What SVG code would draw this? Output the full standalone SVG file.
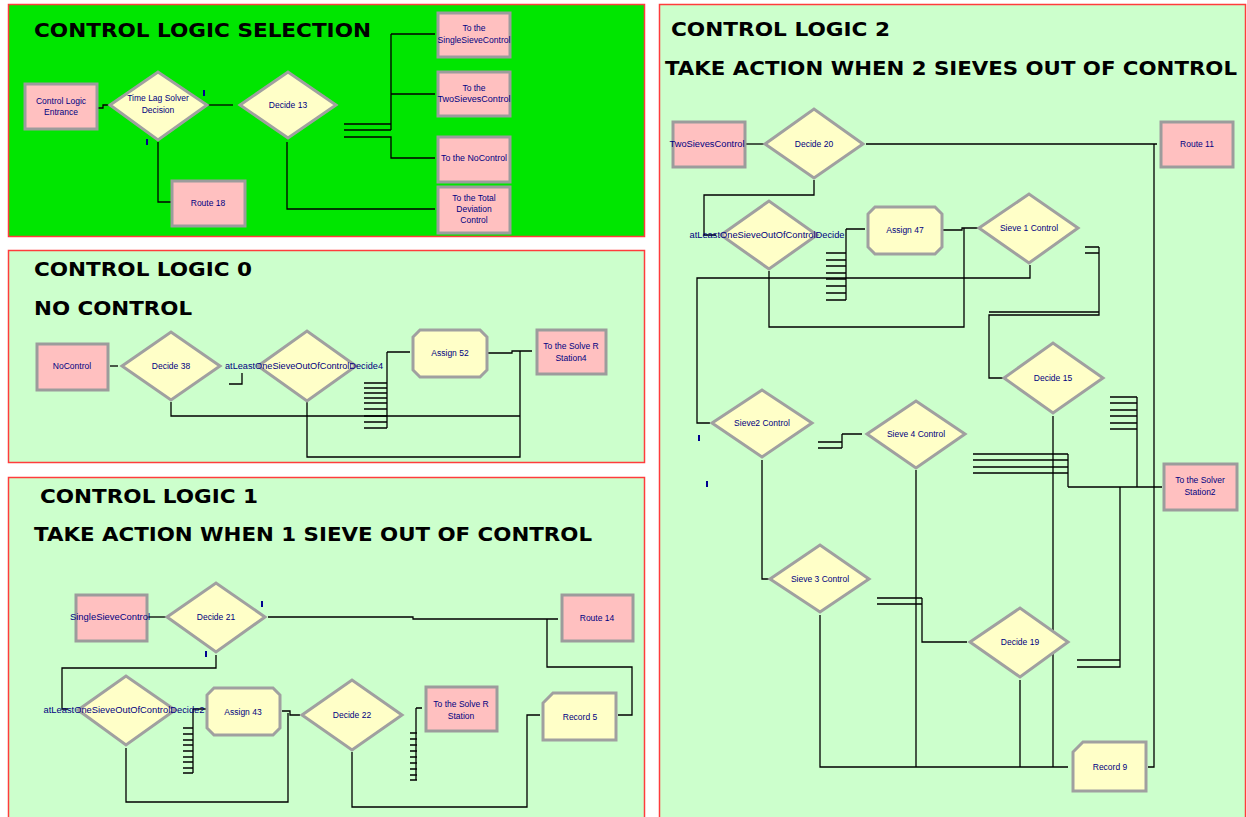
<svg xmlns="http://www.w3.org/2000/svg" width="1247" height="817" viewBox="0 0 1247 817">
<style>
.pa{fill:#00e600;stroke:#ff3c3c;stroke-width:1.5}
.pb{fill:#ccffcc;stroke:#ff3c3c;stroke-width:1.5}
.box{fill:#ffc0c0;stroke:#9c9c9c;stroke-width:3}
.dia{fill:#ffffc8;stroke:#a0a0a0;stroke-width:3}
.lbl{font-family:"Liberation Sans",Arial,sans-serif;font-size:8.5px;fill:#000080;text-anchor:middle}
.ttl{font-family:"DejaVu Sans","Liberation Sans",sans-serif;font-weight:bold;font-size:19px;fill:#000}
.cn{fill:none;stroke:#000;stroke-width:1.3}
.tk{fill:#000090}
</style>
<rect width="1247" height="817" fill="#ffffff"/>
<g id="panels">
<rect class="pa" x="8.5" y="4.5" width="636" height="232"/>
<rect class="pb" x="8.5" y="250.5" width="636" height="212"/>
<rect class="pb" x="8.5" y="477.5" width="636" height="345"/>
<rect class="pb" x="659.5" y="4.5" width="586" height="820"/>
</g>
<g id="titles">
<text class="ttl" x="34" y="37" textLength="337" lengthAdjust="spacingAndGlyphs">CONTROL LOGIC SELECTION</text>
<text class="ttl" x="34" y="276" textLength="218" lengthAdjust="spacingAndGlyphs">CONTROL LOGIC 0</text>
<text class="ttl" x="34" y="315" textLength="158" lengthAdjust="spacingAndGlyphs">NO CONTROL</text>
<text class="ttl" x="40" y="503" textLength="218" lengthAdjust="spacingAndGlyphs">CONTROL LOGIC 1</text>
<text class="ttl" x="34" y="541" textLength="558" lengthAdjust="spacingAndGlyphs">TAKE ACTION WHEN 1 SIEVE OUT OF CONTROL</text>
<text class="ttl" x="671" y="36" textLength="219" lengthAdjust="spacingAndGlyphs">CONTROL LOGIC 2</text>
<text class="ttl" x="665" y="75" textLength="572" lengthAdjust="spacingAndGlyphs">TAKE ACTION WHEN 2 SIEVES OUT OF CONTROL</text>
</g>
<g id="connectors">
<path class="cn" d="M97,108 H103 V105 H110"/>
<path class="cn" d="M208,105 H233"/>
<path class="cn" d="M158,142 V202 H172"/>
<path class="cn" d="M287,142 V209 H435"/>
<path class="cn" d="M344,124 H391 M344,130 H391 M391,34 V130 M391,34 H435 M391,94 H435 M344,137 H391 V158 H435"/>
<path class="cn" d="M110,366 H118"/>
<path class="cn" d="M229,384 H242 V373"/>
<path class="cn" d="M307,402 V457 H520 V351"/>
<path class="cn" d="M171,402 V416 H520"/>
<path class="cn" d="M364,383 H387 M364,388 H387 M364,393 H387 M364,398 H387 M364,403 H387 M364,409 H387 M364,416 H387 M364,422 H387 M364,428 H387 M387,352 V428 M387,352 H410"/>
<path class="cn" d="M488,353 H512 V351 H532"/>
<path class="cn" d="M148,617 H166"/>
<path class="cn" d="M268,617 H413 V619 H558 M547,619 V667 H632 V715 H618"/>
<path class="cn" d="M216,655 V668 H62 V709 H68"/>
<path class="cn" d="M183,728 H193 M183,734 H193 M183,740 H193 M183,745 H193 M183,751 H193 M183,757 H193 M183,762 H193 M183,768 H193 M183,773 H193 M193,709 V773 M193,709 H207"/>
<path class="cn" d="M282,711 H290 V715 H300 M288,713 V802 H126 V748"/>
<path class="cn" d="M410,733 H417 M410,739 H417 M410,745 H417 M410,751 H417 M410,757 H417 M410,763 H417 M410,769 H417 M410,775 H417 M410,780 H417 M416,708 V780 M416,708 H422"/>
<path class="cn" d="M352,752 V807 H527 V715 H540"/>
<path class="cn" d="M745,144 H765"/>
<path class="cn" d="M866,144 H1157 M1154,144 V767 H1148"/>
<path class="cn" d="M814,180 V195 H704 V235 H716"/>
<path class="cn" d="M826,253 H846 M826,260 H846 M826,266 H846 M826,273 H846 M826,279 H846 M826,286 H846 M826,293 H846 M826,300 H846 M846,229 V300 M846,229 H865"/>
<path class="cn" d="M943,230 H962 V228 H978 M964,228 V327 H769 V271"/>
<path class="cn" d="M1030,265 V278 H697 V423 H710"/>
<path class="cn" d="M1085,247 H1099 M1085,253 H1099 M1099,247 V315 H989 V378 H1003 M1099,312 H989"/>
<path class="cn" d="M1110,397 H1137 M1110,403 H1137 M1110,410 H1137 M1110,416 H1137 M1110,423 H1137 M1110,429 H1137 M1137,397 V487"/>
<path class="cn" d="M973,454 H1068 M973,460 H1068 M973,467 H1068 M973,473 H1068 M1068,454 V487 M1068,487 H1162"/>
<path class="cn" d="M1120,487 V667 H1077 M1077,660 H1120"/>
<path class="cn" d="M818,442 H842 M818,448 H842 M842,434 V448 M842,434 H862"/>
<path class="cn" d="M762,460 V579 H770"/>
<path class="cn" d="M877,598 H922 M877,604 H922 M922,598 V642 H967"/>
<path class="cn" d="M916,470 V767 M820,615 V767 H1068 M1020,680 V767 M1053,416 V767"/>
</g>
<g id="ticks">
<rect class="tk" x="203" y="90" width="2" height="6"/>
<rect class="tk" x="146" y="139" width="2" height="6"/>
<rect class="tk" x="261" y="601" width="2" height="6"/>
<rect class="tk" x="205" y="651" width="2" height="6"/>
<rect class="tk" x="698" y="435" width="2" height="6"/>
<rect class="tk" x="706" y="481" width="2" height="6"/>
</g>
<g id="n-entrance"><rect class="box" x="25" y="84" width="72" height="45"/><text class="lbl" x="61" y="104">Control Logic</text><text class="lbl" x="61" y="115">Entrance</text></g>
<g id="n-timelag"><polygon class="dia" points="110,105 158,72 207,105 158,140"/><text class="lbl" x="158" y="101">Time Lag Solver</text><text class="lbl" x="158" y="113">Decision</text></g>
<g id="n-decide13"><polygon class="dia" points="240,105 288,72 336,105 288,138"/><text class="lbl" x="288" y="108">Decide 13</text></g>
<g id="n-route18"><rect class="box" x="172" y="181" width="73" height="45"/><text class="lbl" x="208" y="206">Route 18</text></g>
<g id="n-tosingle"><rect class="box" x="438" y="13" width="72" height="44"/><text class="lbl" x="474" y="31">To the</text><text class="lbl" x="474" y="43" textLength="73" lengthAdjust="spacingAndGlyphs">SingleSieveControl</text></g>
<g id="n-totwo"><rect class="box" x="438" y="72" width="72" height="44"/><text class="lbl" x="474" y="91">To the</text><text class="lbl" x="474" y="102" textLength="73" lengthAdjust="spacingAndGlyphs">TwoSievesControl</text></g>
<g id="n-tono"><rect class="box" x="438" y="137" width="72" height="45"/><text class="lbl" x="474" y="161" textLength="66" lengthAdjust="spacingAndGlyphs">To the NoControl</text></g>
<g id="n-tototal"><rect class="box" x="438" y="187" width="72" height="46"/><text class="lbl" x="474" y="201">To the Total</text><text class="lbl" x="474" y="212">Deviation</text><text class="lbl" x="474" y="223">Control</text></g>
<g id="n-nocontrol"><rect class="box" x="37" y="344" width="71" height="46"/><text class="lbl" x="72" y="369">NoControl</text></g>
<g id="n-decide38"><polygon class="dia" points="122,366 171,332 220,366 171,400"/><text class="lbl" x="171" y="369">Decide 38</text></g>
<g id="n-atleast4"><polygon class="dia" points="258,366 307,331 356,366 307,401"/><text class="lbl" x="304" y="369" textLength="158" lengthAdjust="spacingAndGlyphs">atLeastOneSieveOutOfControlDecide4</text></g>
<g id="n-assign52"><polygon class="dia" points="420,330 480,330 487,337 487,370 480,377 420,377 413,370 413,337"/><text class="lbl" x="450" y="356" font-size="7.5">Assign 52</text></g>
<g id="n-station4"><rect class="box" x="537" y="330" width="69" height="44"/><text class="lbl" x="571" y="349">To the Solve R</text><text class="lbl" x="571" y="361">Station4</text></g>
<g id="n-single"><rect class="box" x="76" y="595" width="71" height="46"/><text class="lbl" x="110" y="620" textLength="80" lengthAdjust="spacingAndGlyphs">SingleSieveControl</text></g>
<g id="n-decide21"><polygon class="dia" points="167,617 216,583 265,617 216,652"/><text class="lbl" x="216" y="620">Decide 21</text></g>
<g id="n-atleast2"><polygon class="dia" points="78,710 126,676 175,710 126,745"/><text class="lbl" x="124" y="713" textLength="161" lengthAdjust="spacingAndGlyphs">atLeastOneSieveOutOfControlDecide2</text></g>
<g id="n-assign43"><polygon class="dia" points="214,688 273,688 280,695 280,728 273,735 214,735 207,728 207,695"/><text class="lbl" x="243" y="715" font-size="7.5">Assign 43</text></g>
<g id="n-decide22"><polygon class="dia" points="302,715 352,680 402,715 352,750"/><text class="lbl" x="352" y="718">Decide 22</text></g>
<g id="n-station"><rect class="box" x="426" y="687" width="71" height="44"/><text class="lbl" x="461" y="707">To the Solve R</text><text class="lbl" x="461" y="719">Station</text></g>
<g id="n-route14"><rect class="box" x="562" y="595" width="71" height="46"/><text class="lbl" x="597" y="621">Route 14</text></g>
<g id="n-record5"><polygon class="dia" points="553,693 616,693 616,740 543,740 543,703"/><text class="lbl" x="580" y="720" font-size="7.5">Record 5</text></g>
<g id="n-twosieves"><rect class="box" x="673" y="122" width="72" height="45"/><text class="lbl" x="707" y="147" textLength="75" lengthAdjust="spacingAndGlyphs">TwoSievesControl</text></g>
<g id="n-decide20"><polygon class="dia" points="765,144 814,109 863,144 814,178"/><text class="lbl" x="814" y="147">Decide 20</text></g>
<g id="n-route11"><rect class="box" x="1161" y="122" width="72" height="45"/><text class="lbl" x="1197" y="147">Route 11</text></g>
<g id="n-atleast"><polygon class="dia" points="721,235 769,201 817,235 769,269"/><text class="lbl" x="767" y="238" textLength="155" lengthAdjust="spacingAndGlyphs">atLeastOneSieveOutOfControlDecide</text></g>
<g id="n-assign47"><polygon class="dia" points="875,207 935,207 942,214 942,247 935,254 875,254 868,247 868,214"/><text class="lbl" x="905" y="233" font-size="7.5">Assign 47</text></g>
<g id="n-sieve1"><polygon class="dia" points="979,228 1029,194 1078,228 1029,263"/><text class="lbl" x="1029" y="231">Sieve 1 Control</text></g>
<g id="n-decide15"><polygon class="dia" points="1004,378 1053,343 1103,378 1053,413"/><text class="lbl" x="1053" y="381">Decide 15</text></g>
<g id="n-station2"><rect class="box" x="1164" y="464" width="73" height="46"/><text class="lbl" x="1200" y="483">To the Solver</text><text class="lbl" x="1200" y="495">Station2</text></g>
<g id="n-sieve2"><polygon class="dia" points="712,423 762,390 812,423 762,457"/><text class="lbl" x="762" y="426">Sieve2 Control</text></g>
<g id="n-sieve4"><polygon class="dia" points="867,434 916,401 965,434 916,468"/><text class="lbl" x="916" y="437">Sieve 4 Control</text></g>
<g id="n-sieve3"><polygon class="dia" points="770,579 820,545 869,579 820,612"/><text class="lbl" x="820" y="582">Sieve 3 Control</text></g>
<g id="n-decide19"><polygon class="dia" points="970,642 1020,608 1068,642 1020,677"/><text class="lbl" x="1020" y="645">Decide 19</text></g>
<g id="n-record9"><polygon class="dia" points="1083,742 1146,742 1146,791 1073,791 1073,752"/><text class="lbl" x="1110" y="770" font-size="7.5">Record 9</text></g>
</svg>
